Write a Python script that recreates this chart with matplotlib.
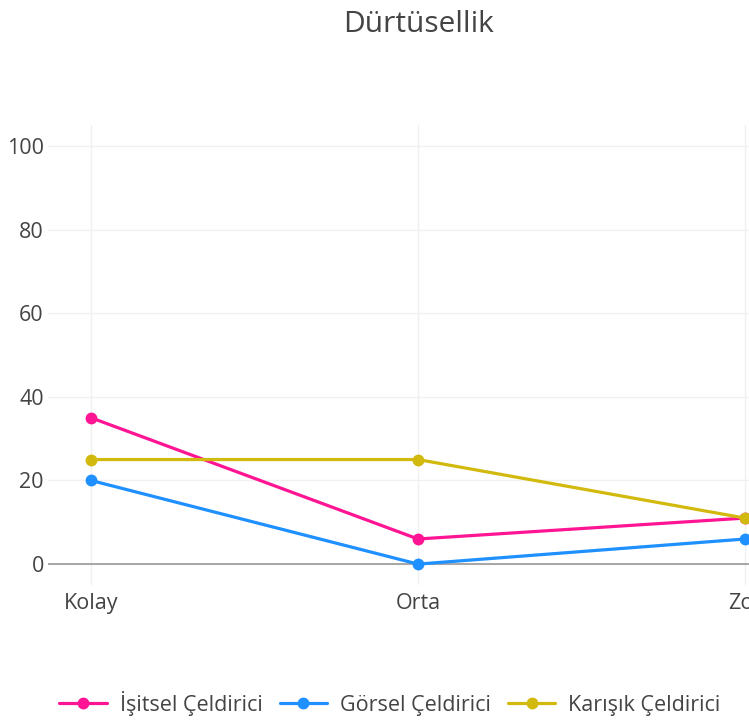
import matplotlib.pyplot as plt

# Dürtüsellik - three distractor types over difficulty levels
categories = ["Kolay", "Orta", "Zor"]
isitsel = [35, 6, 11]
gorsel = [20, 0, 6]
karisik = [25, 25, 11]
series_names = ["İşitsel Çeldirici", "Görsel Çeldirici", "Karışık Çeldirici"]
colors = ["#FF1493", "#1E90FF", "#D2B90E"]
yticks = [0, 20, 40, 60, 80, 100]

plt.rcParams["font.family"] = ["Open Sans", "DejaVu Sans"]

W, H = 749, 725
fig = plt.figure(figsize=(W / 100, H / 100), dpi=100)
# plot area runs past the right edge like the reference
ax = fig.add_axes([48 / W, 140 / H, 740 / W, 460 / H])

xs = list(range(len(categories)))
handles = []
for vals, name, c in zip([isitsel, gorsel, karisik], series_names, colors):
    h, = ax.plot(xs, vals, color=c, lw=2.3, marker="o", ms=7.5, label=name,
                 solid_capstyle="round", zorder=3)
    handles.append(h)

ax.set_xlim(-0.1315, 2.1315)
ax.set_ylim(-5, 105)
ax.set_xticks(xs)
ax.set_xticklabels(categories)
ax.set_yticks(yticks)
ax.grid(True, color="#f0f0f0", lw=1)
ax.axhline(0, color="#999999", lw=1.2, zorder=2)
for s in ax.spines.values():
    s.set_visible(False)
ax.tick_params(length=0, labelsize=15.5, labelcolor="#444444")
ax.tick_params(axis="x", pad=6)
ax.tick_params(axis="y", pad=3)

fig.text(418 / W, 1 - 24 / H, "Dürtüsellik", ha="center", va="center",
         fontsize=21.5, color="#444444")

fig.legend(handles=handles, loc="center", bbox_to_anchor=(390 / W, 1 - 703 / H),
           ncol=3, frameon=False, fontsize=15.5, handlelength=2.2,
           columnspacing=0.8, handletextpad=0.6, labelcolor="#444444")

fig.savefig("out.png", dpi=100)
